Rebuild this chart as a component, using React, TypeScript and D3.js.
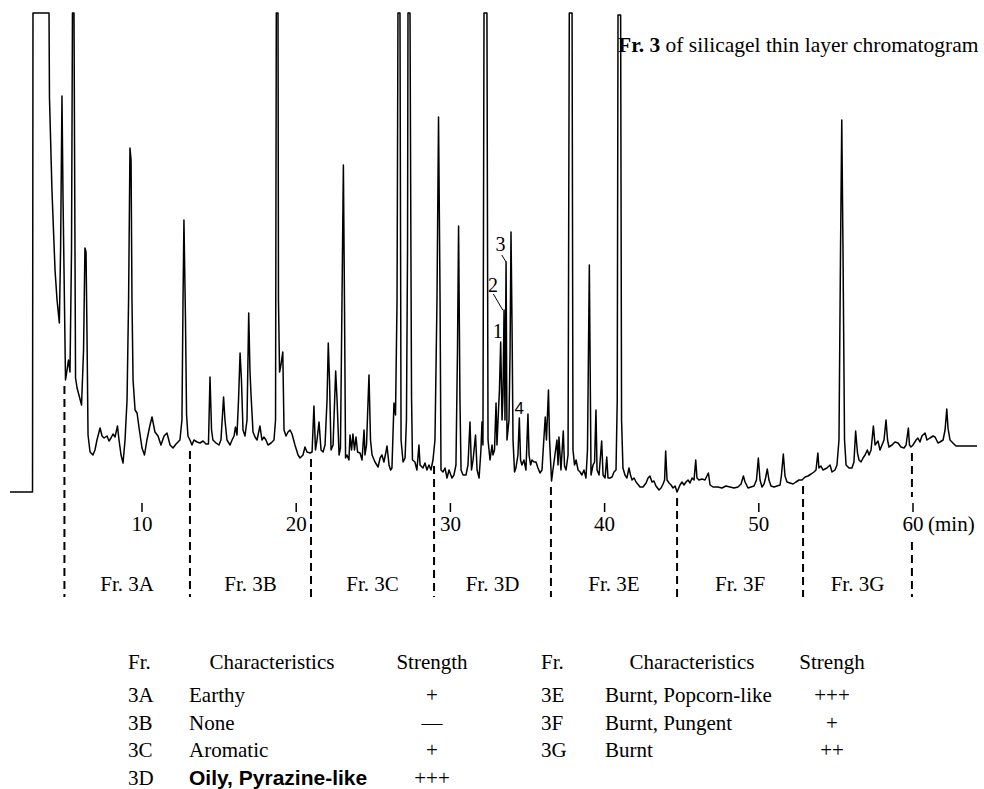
import React from 'react'
import * as d3 from 'd3'

// GC trace of fraction 3: [retention time (min), detector response (relative units)]
// peaks that ran off the recorder paper are kept at the top value 479
const chromatogram: [number, number][] = [
  [1.44, 0], [2.90, 0], [2.93, 479], [3.97, 479], [4.00, 394], [4.16, 302], [4.36, 222], [4.49, 192],
  [4.64, 169], [4.72, 242], [4.81, 396], [4.88, 292], [5.04, 112], [5.14, 122], [5.23, 132], [5.33, 120],
  [5.43, 242], [5.49, 479], [5.59, 479], [5.64, 292], [5.69, 114], [5.79, 104], [5.91, 97], [6.08, 87],
  [6.21, 142], [6.30, 244], [6.37, 240], [6.43, 162], [6.50, 57], [6.63, 40], [6.82, 37], [6.95, 42],
  [7.08, 52], [7.28, 64], [7.41, 56], [7.54, 54], [7.73, 56], [7.86, 51], [7.99, 54], [8.12, 58],
  [8.25, 55], [8.41, 66], [8.51, 52], [8.64, 37], [8.77, 29], [8.90, 52], [9.03, 92], [9.13, 192],
  [9.22, 344], [9.29, 332], [9.35, 192], [9.42, 112], [9.55, 82], [9.68, 79], [9.81, 64], [10.00, 44],
  [10.16, 37], [10.32, 52], [10.52, 67], [10.65, 75], [10.84, 60], [11.04, 56], [11.23, 47], [11.43, 56],
  [11.62, 59], [11.82, 47], [12.01, 44], [12.21, 48], [12.46, 52], [12.59, 72], [12.66, 192], [12.72, 272],
  [12.82, 172], [12.89, 77], [12.98, 56], [13.11, 52], [13.24, 47], [13.37, 52], [13.57, 50], [13.76, 49],
  [13.96, 51], [14.15, 48], [14.31, 48], [14.41, 115], [14.51, 62], [14.60, 52], [14.80, 49], [14.99, 47],
  [15.12, 52], [15.29, 95], [15.38, 72], [15.51, 52], [15.71, 47], [15.84, 52], [15.97, 56], [16.06, 65],
  [16.16, 57], [16.26, 92], [16.36, 139], [16.45, 112], [16.55, 62], [16.68, 56], [16.81, 72], [16.92, 179],
  [17.00, 122], [17.07, 97], [17.20, 60], [17.33, 55], [17.46, 52], [17.65, 66], [17.78, 52], [17.91, 55],
  [18.04, 52], [18.17, 47], [18.37, 49], [18.56, 52], [18.66, 72], [18.71, 479], [18.82, 479], [18.85, 192],
  [18.92, 120], [19.01, 127], [19.13, 140], [19.21, 62], [19.34, 56], [19.47, 60], [19.60, 62], [19.73, 58],
  [19.92, 47], [20.12, 37], [20.25, 34], [20.44, 37], [20.57, 45], [20.70, 40], [20.90, 39], [21.03, 40],
  [21.15, 86], [21.25, 42], [21.35, 52], [21.48, 70], [21.61, 42], [21.74, 40], [21.87, 47], [22.00, 92],
  [22.08, 149], [22.16, 112], [22.26, 42], [22.39, 47], [22.56, 121], [22.65, 92], [22.78, 37], [22.87, 44],
  [22.97, 192], [23.06, 327], [23.13, 192], [23.20, 34], [23.29, 37], [23.42, 32], [23.49, 57], [23.59, 42],
  [23.68, 58], [23.78, 42], [23.88, 55], [23.98, 40], [24.14, 39], [24.27, 32], [24.40, 62], [24.46, 37],
  [24.56, 47], [24.72, 117], [24.82, 52], [24.92, 37], [25.11, 30], [25.31, 25], [25.44, 34], [25.56, 37],
  [25.69, 30], [25.82, 40], [25.89, 46], [26.02, 27], [26.12, 22], [26.21, 24], [26.34, 89], [26.44, 77],
  [26.54, 192], [26.60, 479], [26.73, 479], [26.80, 52], [26.93, 30], [27.06, 34], [27.15, 72], [27.22, 242],
  [27.25, 479], [27.38, 479], [27.45, 202], [27.48, 95], [27.54, 32], [27.70, 30], [27.83, 22], [27.96, 47],
  [28.03, 27], [28.22, 24], [28.35, 29], [28.48, 22], [28.61, 27], [28.74, 22], [28.87, 32], [29.00, 52],
  [29.13, 192], [29.23, 375], [29.33, 192], [29.39, 22], [29.52, 20], [29.65, 24], [29.78, 14], [29.91, 22],
  [30.10, 14], [30.23, 17], [30.36, 27], [30.46, 142], [30.53, 266], [30.62, 92], [30.69, 22], [30.82, 17],
  [31.01, 17], [31.14, 27], [31.27, 70], [31.37, 22], [31.47, 32], [31.63, 57], [31.73, 22], [31.86, 14],
  [31.98, 42], [32.05, 70], [32.11, 47], [32.18, 479], [32.37, 479], [32.44, 52], [32.57, 32], [32.70, 47],
  [32.76, 37], [32.86, 42], [32.96, 89], [33.02, 47], [33.09, 72], [33.18, 102], [33.26, 150], [33.35, 72],
  [33.41, 97], [33.48, 182], [33.54, 72], [33.61, 230], [33.67, 52], [33.80, 72], [33.87, 142], [33.93, 260],
  [34.00, 162], [34.06, 52], [34.16, 20], [34.25, 24], [34.38, 37], [34.47, 74], [34.55, 32], [34.64, 27],
  [34.77, 32], [34.90, 22], [35.03, 78], [35.10, 37], [35.20, 27], [35.29, 32], [35.42, 30], [35.55, 30],
  [35.68, 24], [35.81, 19], [35.94, 22], [36.01, 40], [36.15, 75], [36.23, 52], [36.36, 102], [36.43, 52],
  [36.56, 11], [36.65, 22], [36.78, 37], [36.91, 52], [36.98, 27], [37.04, 55], [37.17, 22], [37.32, 61],
  [37.40, 26], [37.50, 22], [37.63, 37], [37.71, 479], [37.89, 479], [37.95, 42], [38.05, 27], [38.15, 32],
  [38.28, 22], [38.41, 20], [38.53, 17], [38.66, 22], [38.79, 14], [38.89, 42], [39.01, 227], [39.07, 112],
  [39.12, 17], [39.25, 27], [39.35, 30], [39.44, 82], [39.51, 22], [39.64, 17], [39.81, 51], [39.90, 17],
  [40.03, 14], [40.14, 35], [40.22, 14], [40.35, 14], [40.48, 15], [40.61, 20], [40.74, 22], [40.82, 92],
  [40.87, 477], [41.04, 477], [41.10, 72], [41.19, 24], [41.32, 17], [41.45, 14], [41.58, 24], [41.68, 17],
  [41.78, 12], [41.91, 14], [42.04, 10], [42.30, 5], [42.49, 5], [42.69, 9], [42.82, 14], [42.94, 16],
  [43.07, 10], [43.20, 11], [43.33, 6], [43.53, 2], [43.66, 4], [43.79, 8], [43.89, 12], [43.96, 41],
  [44.05, 12], [44.18, 9], [44.31, 7], [44.44, 4], [44.57, 6], [44.70, 0], [44.89, 7], [45.02, 10],
  [45.15, 7], [45.28, 10], [45.41, 12], [45.54, 9], [45.67, 14], [45.80, 12], [45.91, 32], [45.99, 14],
  [46.12, 12], [46.32, 13], [46.51, 12], [46.73, 19], [46.84, 7], [47.03, 5], [47.35, 5], [47.61, 4],
  [47.87, 6], [48.13, 5], [48.39, 4], [48.65, 5], [48.85, 8], [49.00, 16], [49.11, 10], [49.30, 4],
  [49.49, 5], [49.69, 6], [49.85, 12], [49.97, 34], [50.08, 12], [50.21, 5], [50.34, 8], [50.44, 14],
  [50.55, 23], [50.66, 12], [50.79, 6], [50.99, 5], [51.18, 6], [51.38, 7], [51.47, 17], [51.59, 38],
  [51.70, 16], [51.83, 10], [52.02, 9], [52.22, 8], [52.41, 10], [52.61, 12], [52.80, 12], [53.00, 15],
  [53.19, 16], [53.39, 18], [53.58, 20], [53.71, 22], [53.83, 39], [53.90, 24], [54.03, 26], [54.16, 22],
  [54.29, 23], [54.42, 24], [54.62, 27], [54.75, 20], [54.94, 22], [55.07, 27], [55.20, 52], [55.30, 242],
  [55.38, 372], [55.46, 242], [55.56, 52], [55.66, 27], [55.85, 24], [56.04, 24], [56.17, 30], [56.28, 61],
  [56.40, 39], [56.50, 32], [56.63, 30], [56.76, 34], [56.89, 37], [57.04, 42], [57.15, 37], [57.28, 42],
  [57.43, 66], [57.54, 47], [57.73, 51], [57.86, 42], [57.99, 47], [58.12, 52], [58.25, 72], [58.35, 52],
  [58.44, 45], [58.64, 47], [58.83, 50], [59.03, 49], [59.22, 45], [59.42, 44], [59.55, 47], [59.70, 64],
  [59.77, 47], [59.87, 45], [60.00, 47], [60.20, 52], [60.32, 54], [60.45, 50], [60.58, 56], [60.78, 59],
  [60.91, 52], [61.10, 54], [61.30, 56], [61.43, 55], [61.62, 49], [61.75, 50], [61.95, 52], [62.08, 62],
  [62.19, 83], [62.27, 64], [62.40, 52], [62.59, 49], [62.79, 46], [64.15, 46],
]

// time axis
const timeTicks = [10, 20, 30, 40, 50, 60]

// fraction cut points (min) and names
const fractionCuts = [4.97, 13.11, 20.96, 28.94, 36.52, 44.70, 52.87, 59.93]
const fractionNames = ['3A', '3B', '3C', '3D', '3E', '3F', '3G']

// numbered peaks (retention time, min)
const peakNumbers = ['1', '2', '3', '4']
const peakTimes = [33.26, 33.48, 33.61, 34.47]

// sensory evaluation table
const tableFr = ['3A', '3B', '3C', '3D', '3E', '3F', '3G']
const tableCharacter = ['Earthy', 'None', 'Aromatic', 'Oily, Pyrazine-like', 'Burnt, Popcorn-like', 'Burnt, Pungent', 'Burnt']
const tableStrength = ['+', '\u2014', '+', '+++', '+++', '+', '++']

const serif = "'Liberation Serif', 'Times New Roman', serif"
const sans = "'Liberation Sans', Arial, sans-serif"

export default function App() {
  const w = 984
  const h = 789

  const x = d3.scaleLinear().domain([0, 60]).range([-12.2, 913])
  const y = d3.scaleLinear().domain([0, 479]).range([492, 13])

  const tracePath = d3.line<[number, number]>()
    .x(d => x(d[0]))
    .y(d => y(d[1]))(chromatogram) || ''

  const responseAt = (t: number) => {
    const i = d3.bisector((d: [number, number]) => d[0]).left(chromatogram, t)
    return chromatogram[Math.min(i, chromatogram.length - 1)][1]
  }
  // lowest point of the trace near a cut, the dashed line starts just below it
  const floorNear = (t: number) =>
    d3.min(chromatogram.filter(d => Math.abs(d[0] - t) <= 0.15), d => d[1]) ?? 0

  const rowY = d3.scaleLinear().domain([0, 1]).range([702, 729.5])

  return (
    <svg width={w} height={h} style={{ position: 'absolute', left: 0, top: 0, background: '#fff' }}>
      <path d={tracePath} fill="none" stroke="#000" strokeWidth={1.5} strokeLinejoin="round" />

      {/* title */}
      <text x={618} y={52} fontFamily={serif} fontSize={21.5} fill="#000">
        <tspan fontWeight="bold">Fr. 3</tspan> of silicagel thin layer chromatogram
      </text>

      {/* time ticks */}
      {timeTicks.map(t => (
        <g key={t}>
          <line x1={x(t)} x2={x(t)} y1={503} y2={512} stroke="#000" strokeWidth={1.5} />
          <text x={x(t)} y={531} textAnchor="middle" fontFamily={serif} fontSize={21}>{t}</text>
        </g>
      ))}
      <text x={x(60) + 15} y={531} fontFamily={serif} fontSize={21}>(min)</text>

      {/* fraction cuts, broken where they cross a time label */}
      {fractionCuts.map(t => {
        const top = y(floorNear(t)) + 6
        const nearTick = timeTicks.some(v => Math.abs(x(v) - x(t)) < 6)
        const common = { stroke: '#000', strokeWidth: 2, strokeDasharray: '8 5' }
        return nearTick ? (
          <g key={t}>
            <line x1={x(t)} x2={x(t)} y1={top} y2={497} {...common} />
            <line x1={x(t)} x2={x(t)} y1={542} y2={597} {...common} />
          </g>
        ) : (
          <line key={t} x1={x(t)} x2={x(t)} y1={top} y2={597} {...common} />
        )
      })}
      {fractionNames.map((n, i) => (
        <text key={n} x={(x(fractionCuts[i]) + x(fractionCuts[i + 1])) / 2} y={591}
          textAnchor="middle" fontFamily={serif} fontSize={21}>{'Fr. ' + n}</text>
      ))}

      {/* numbered peaks */}
      {peakNumbers.map((n, i) => {
        const px = x(peakTimes[i])
        const py = y(responseAt(peakTimes[i]))
        if (n === '2') {
          return (
            <g key={n}>
              <line x1={px - 1.3} y1={py} x2={px - 10.7} y2={py - 16} stroke="#000" strokeWidth={1} />
              <text x={px - 11} y={py - 18} textAnchor="middle" fontFamily={serif} fontSize={20}>{n}</text>
            </g>
          )
        }
        if (n === '3') {
          return (
            <g key={n}>
              <line x1={px} y1={py} x2={px - 4.3} y2={py - 7} stroke="#000" strokeWidth={1} />
              <text x={px - 5.5} y={py - 11} textAnchor="middle" fontFamily={serif} fontSize={20}>{n}</text>
            </g>
          )
        }
        return (
          <text key={n} x={n === '1' ? px - 3 : px} y={py - 4} textAnchor="middle"
            fontFamily={n === '4' ? sans : serif} fontSize={n === '4' ? 17 : 20}>{n}</text>
        )
      })}

      {/* table headers */}
      <g fontFamily={serif} fontSize={21} fill="#000">
        <text x={128} y={669}>Fr.</text>
        <text x={272} y={669} textAnchor="middle">Characteristics</text>
        <text x={432} y={669} textAnchor="middle">Strength</text>
        <text x={541} y={669}>Fr.</text>
        <text x={692} y={669} textAnchor="middle">Characteristics</text>
        <text x={832} y={669} textAnchor="middle">Strengh</text>
      </g>

      {/* table rows */}
      {tableFr.map((f, i) => {
        const right = i >= 4
        const row = right ? i - 4 : i
        const ty = rowY(row)
        const bold = f === '3D'
        return (
          <g key={f} fontSize={21} fill="#000">
            <text x={right ? 541 : 128} y={ty} fontFamily={serif}>{f}</text>
            <text x={right ? 605 : 189} y={ty} fontFamily={bold ? sans : serif}
              fontWeight={bold ? 'bold' : 'normal'}>{tableCharacter[i]}</text>
            <text x={right ? 832 : 432} y={ty} textAnchor="middle" fontFamily={serif}>{tableStrength[i]}</text>
          </g>
        )
      })}
    </svg>
  )
}
